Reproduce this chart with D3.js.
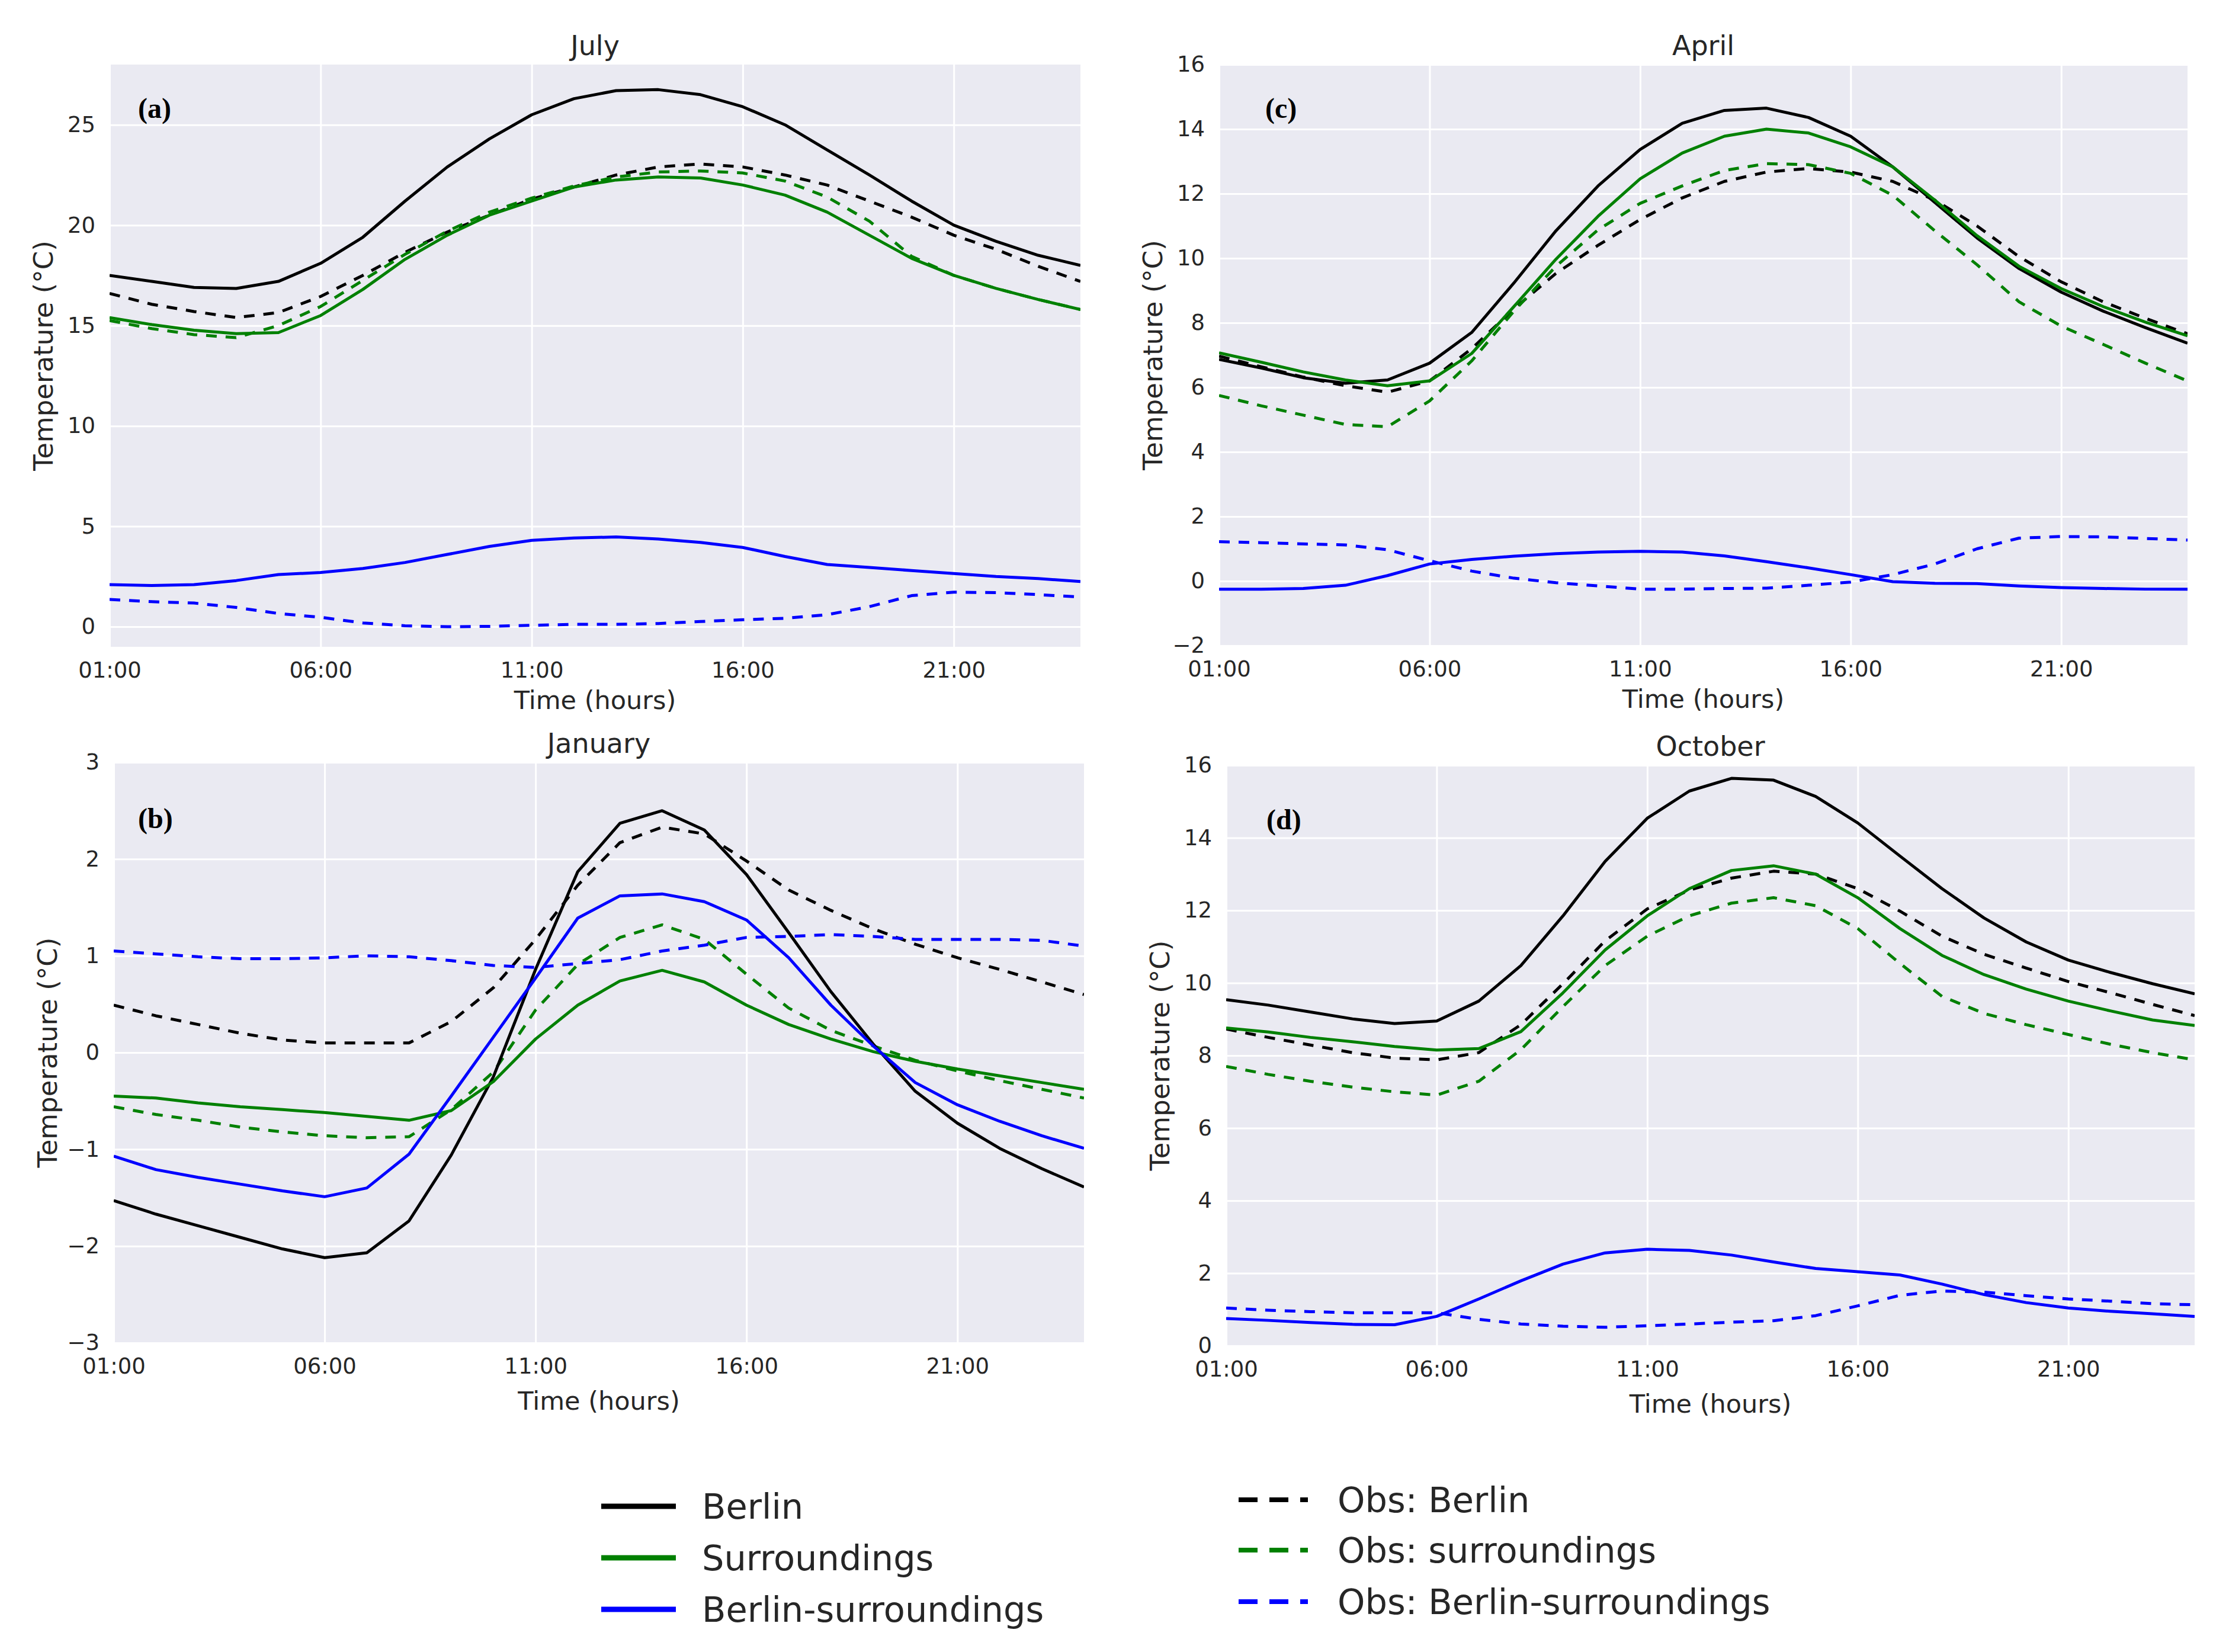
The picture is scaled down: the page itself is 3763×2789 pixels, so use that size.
<!DOCTYPE html>
<html>
<head>
<meta charset="utf-8">
<script src="https://cdn.jsdelivr.net/npm/d3@7"></script>
<style>
  body { margin: 0; background: #fff; }
  svg { display: block; }
</style>
</head>
<body>
<div id="chart"></div>
<script>
const WIDTH = 3763;
const HEIGHT = 2789;

const hours = [1, 2, 3, 4, 5, 6, 7, 8, 9, 10, 11, 12, 13, 14, 15, 16, 17, 18, 19, 20, 21, 22, 23, 24];
const xTickHours = [1, 6, 11, 16, 21];
const xTickLabels = ["01:00", "06:00", "11:00", "16:00", "21:00"];

// July
const julyBerlin = [17.5, 17.2, 16.9, 16.85, 17.2, 18.1, 19.4, 21.2, 22.9, 24.3, 25.5, 26.3, 26.7, 26.75, 26.5, 25.9, 25.0, 23.75, 22.5, 21.2, 20.0, 19.2, 18.5, 18.0];
const julySurr = [15.4, 15.05, 14.77, 14.6, 14.65, 15.5, 16.8, 18.3, 19.5, 20.5, 21.2, 21.9, 22.25, 22.4, 22.35, 22.0, 21.5, 20.65, 19.5, 18.35, 17.5, 16.85, 16.3, 15.8];
const julyDiff = [2.1, 2.05, 2.1, 2.3, 2.6, 2.7, 2.9, 3.2, 3.6, 4.0, 4.3, 4.42, 4.47, 4.37, 4.2, 3.95, 3.5, 3.1, 2.95, 2.8, 2.65, 2.5, 2.4, 2.25];
const julyObsBerlin = [16.6, 16.06, 15.7, 15.4, 15.65, 16.45, 17.5, 18.65, 19.66, 20.5, 21.3, 21.9, 22.5, 22.9, 23.05, 22.9, 22.5, 22.0, 21.2, 20.4, 19.5, 18.8, 17.95, 17.2];
const julyObsSurr = [15.25, 14.85, 14.55, 14.4, 15.0, 15.95, 17.25, 18.55, 19.7, 20.65, 21.35, 21.95, 22.4, 22.65, 22.7, 22.6, 22.2, 21.4, 20.2, 18.45, 17.5, 16.85, 16.3, 15.8];
const julyObsDiff = [1.36, 1.25, 1.18, 0.96, 0.66, 0.47, 0.19, 0.05, 0.0, 0.02, 0.07, 0.12, 0.12, 0.16, 0.26, 0.35, 0.42, 0.6, 1.0, 1.55, 1.72, 1.7, 1.6, 1.48];

// April
const aprilBerlin = [6.87, 6.6, 6.3, 6.13, 6.23, 6.75, 7.7, 9.23, 10.85, 12.24, 13.37, 14.18, 14.58, 14.65, 14.36, 13.78, 12.83, 11.73, 10.63, 9.68, 8.95, 8.36, 7.85, 7.37];
const aprilSurr = [7.07, 6.78, 6.48, 6.23, 6.05, 6.2, 7.05, 8.5, 9.97, 11.3, 12.46, 13.26, 13.78, 14.0, 13.88, 13.45, 12.83, 11.8, 10.7, 9.75, 9.06, 8.5, 8.02, 7.6];
const aprilDiff = [-0.25, -0.25, -0.23, -0.13, 0.17, 0.53, 0.67, 0.77, 0.85, 0.9, 0.92, 0.9, 0.78, 0.6, 0.41, 0.2, -0.02, -0.07, -0.08, -0.15, -0.2, -0.23, -0.25, -0.25];
const aprilObsBerlin = [6.97, 6.64, 6.32, 6.05, 5.85, 6.2, 7.2, 8.43, 9.53, 10.4, 11.2, 11.87, 12.38, 12.67, 12.78, 12.67, 12.38, 11.8, 11.0, 10.05, 9.27, 8.65, 8.14, 7.66];
const aprilObsSurr = [5.75, 5.43, 5.14, 4.85, 4.78, 5.58, 6.82, 8.36, 9.75, 10.88, 11.7, 12.24, 12.72, 12.93, 12.9, 12.63, 11.95, 10.85, 9.8, 8.65, 7.9, 7.33, 6.75, 6.2];
const aprilObsDiff = [1.22, 1.19, 1.15, 1.12, 0.97, 0.63, 0.31, 0.09, -0.05, -0.15, -0.25, -0.25, -0.23, -0.22, -0.13, -0.03, 0.2, 0.53, 1.0, 1.33, 1.38, 1.37, 1.32, 1.27];

// January
const januaryBerlin = [-1.53, -1.67, -1.79, -1.91, -2.03, -2.12, -2.07, -1.74, -1.06, -0.25, 0.86, 1.87, 2.37, 2.5, 2.3, 1.84, 1.24, 0.63, 0.09, -0.4, -0.73, -0.99, -1.2, -1.39];
const januarySurr = [-0.45, -0.47, -0.52, -0.56, -0.59, -0.62, -0.66, -0.7, -0.6, -0.3, 0.14, 0.49, 0.74, 0.85, 0.73, 0.49, 0.29, 0.14, 0.01, -0.09, -0.17, -0.24, -0.31, -0.38];
const januaryDiff = [-1.07, -1.21, -1.29, -1.36, -1.43, -1.49, -1.4, -1.05, -0.45, 0.16, 0.77, 1.39, 1.62, 1.64, 1.56, 1.37, 0.98, 0.49, 0.07, -0.31, -0.54, -0.71, -0.86, -0.99];
const januaryObsBerlin = [0.49, 0.38, 0.29, 0.2, 0.13, 0.1, 0.1, 0.1, 0.32, 0.67, 1.17, 1.73, 2.17, 2.33, 2.26, 1.98, 1.68, 1.47, 1.28, 1.12, 0.98, 0.86, 0.73, 0.6];
const januaryObsSurr = [-0.56, -0.64, -0.7, -0.77, -0.82, -0.86, -0.88, -0.87, -0.59, -0.2, 0.44, 0.91, 1.19, 1.32, 1.17, 0.81, 0.46, 0.23, 0.07, -0.08, -0.19, -0.29, -0.38, -0.47];
const januaryObsDiff = [1.05, 1.02, 0.99, 0.97, 0.97, 0.98, 1.0, 0.99, 0.95, 0.9, 0.88, 0.92, 0.96, 1.05, 1.11, 1.19, 1.2, 1.22, 1.2, 1.17, 1.17, 1.17, 1.16, 1.1];

// October
const octoberBerlin = [9.54, 9.39, 9.2, 9.01, 8.88, 8.95, 9.5, 10.48, 11.85, 13.35, 14.54, 15.29, 15.64, 15.59, 15.14, 14.41, 13.5, 12.6, 11.79, 11.13, 10.63, 10.29, 9.98, 9.7];
const octoberSurr = [8.76, 8.65, 8.5, 8.38, 8.25, 8.15, 8.19, 8.66, 9.73, 10.91, 11.85, 12.6, 13.1, 13.23, 13.0, 12.35, 11.5, 10.76, 10.23, 9.83, 9.5, 9.23, 8.98, 8.83];
const octoberDiff = [0.75, 0.7, 0.64, 0.59, 0.58, 0.81, 1.29, 1.79, 2.25, 2.56, 2.66, 2.63, 2.5, 2.31, 2.13, 2.04, 1.95, 1.7, 1.41, 1.19, 1.04, 0.95, 0.88, 0.81];
const octoberObsBerlin = [8.73, 8.5, 8.29, 8.08, 7.93, 7.88, 8.08, 8.85, 9.98, 11.16, 12.04, 12.56, 12.89, 13.08, 13.0, 12.6, 11.98, 11.29, 10.79, 10.41, 10.04, 9.73, 9.41, 9.1];
const octoberObsSurr = [7.7, 7.48, 7.29, 7.13, 7.0, 6.91, 7.29, 8.16, 9.35, 10.48, 11.29, 11.85, 12.2, 12.35, 12.13, 11.5, 10.54, 9.63, 9.16, 8.85, 8.58, 8.31, 8.08, 7.88];
const octoberObsDiff = [1.04, 0.98, 0.94, 0.91, 0.91, 0.91, 0.73, 0.6, 0.54, 0.51, 0.55, 0.6, 0.65, 0.69, 0.83, 1.1, 1.39, 1.51, 1.48, 1.38, 1.29, 1.23, 1.16, 1.13];

const julyTicks = [0, 5, 10, 15, 20, 25];
const aprilTicks = [-2, 0, 2, 4, 6, 8, 10, 12, 14, 16];
const januaryTicks = [-3, -2, -1, 0, 1, 2, 3];
const octoberTicks = [0, 2, 4, 6, 8, 10, 12, 14, 16];

const seriesNames = ["Berlin", "Surroundings", "Berlin-surroundings", "Obs: Berlin", "Obs: surroundings", "Obs: Berlin-surroundings"];
const seriesColors = ["#000000", "#008000", "#0000ff", "#000000", "#008000", "#0000ff"];
const seriesDashed = [false, false, false, true, true, true];

const TEXT = "#262626";
const BG = "#eaeaf2";

const panels = [
  { title: "July", tag: "(a)", x0: 185, y0: 109, x1: 1824, y1: 1092, tagDx: 48, tagDy: 90, xLabelDy: 105,
    domain: [-1, 28], ticks: julyTicks,
    series: [julyBerlin, julySurr, julyDiff, julyObsBerlin, julyObsSurr, julyObsDiff] },
  { title: "April", tag: "(c)", x0: 2058, y0: 109, x1: 3693, y1: 1090, tagDx: 78, tagDy: 90, xLabelDy: 105,
    domain: [-2, 16], ticks: aprilTicks,
    series: [aprilBerlin, aprilSurr, aprilDiff, aprilObsBerlin, aprilObsSurr, aprilObsDiff] },
  { title: "January", tag: "(b)", x0: 192, y0: 1287, x1: 1830, y1: 2267, tagDx: 41, tagDy: 111, xLabelDy: 113,
    domain: [-3, 3], ticks: januaryTicks,
    series: [januaryBerlin, januarySurr, januaryDiff, januaryObsBerlin, januaryObsSurr, januaryObsDiff] },
  { title: "October", tag: "(d)", x0: 2070, y0: 1292, x1: 3705, y1: 2272, tagDx: 68, tagDy: 108, xLabelDy: 113,
    domain: [0, 16], ticks: octoberTicks,
    series: [octoberBerlin, octoberSurr, octoberDiff, octoberObsBerlin, octoberObsSurr, octoberObsDiff] }
];

const svg = d3.select("#chart")
  .append("svg")
  .attr("width", WIDTH)
  .attr("height", HEIGHT)
  .attr("viewBox", "0 0 " + WIDTH + " " + HEIGHT)
  .style("font-family", "'DejaVu Sans', sans-serif");

svg.append("rect").attr("width", WIDTH).attr("height", HEIGHT).attr("fill", "#fff");

panels.forEach(function (p) {
  const w = p.x1 - p.x0;
  const h = p.y1 - p.y0;
  const x = d3.scaleLinear().domain([1, 24]).range([0, w]);
  const y = d3.scaleLinear().domain(p.domain).range([h, 0]);

  const g = svg.append("g").attr("transform", "translate(" + p.x0 + "," + p.y0 + ")");

  g.append("rect").attr("width", w).attr("height", h).attr("fill", BG);

  // grid + tick labels
  const xAxis = g.append("g")
    .attr("transform", "translate(0," + h + ")")
    .call(d3.axisBottom(x).tickValues(xTickHours).tickSize(-h).tickPadding(52 - 37 * 0.78)
      .tickFormat(function (d, i) { return xTickLabels[i]; }));
  const yAxis = g.append("g")
    .call(d3.axisLeft(y).tickValues(p.ticks).tickSize(-w).tickPadding(24)
      .tickFormat(function (d) { return d < 0 ? "\u2212" + Math.abs(d) : String(d); }));

  [xAxis, yAxis].forEach(function (ax) {
    ax.select(".domain").remove();
    ax.selectAll(".tick line").attr("stroke", "#fff").attr("stroke-width", 3);
    ax.selectAll(".tick text")
      .attr("fill", TEXT)
      .style("font-size", "37px")
      .style("font-family", "'DejaVu Sans', sans-serif");
  });
  xAxis.selectAll(".tick text").attr("dy", "0.78em");

  const clipId = "clip-" + p.tag.replace(/[()]/g, "");
  g.append("clipPath").attr("id", clipId)
    .append("rect").attr("width", w).attr("height", h);

  const line = d3.line()
    .x(function (d, i) { return x(hours[i]); })
    .y(function (d) { return y(d); });

  const lines = g.append("g").attr("clip-path", "url(#" + clipId + ")");
  // obs (dashed) first, model (solid) on top
  [3, 4, 5, 0, 1, 2].forEach(function (k) {
    lines.append("path")
      .datum(p.series[k])
      .attr("d", line)
      .attr("fill", "none")
      .attr("stroke", seriesColors[k])
      .attr("stroke-width", 5)
      .attr("stroke-linejoin", "round")
      .attr("stroke-dasharray", seriesDashed[k] ? "18,15" : null);
  });

  g.append("text")
    .attr("x", p.tagDx)
    .attr("y", p.tagDy)
    .attr("fill", "#000")
    .style("font-family", "'Liberation Serif', serif")
    .style("font-weight", "bold")
    .style("font-size", "48px")
    .text(p.tag);

  g.append("text")
    .attr("x", w / 2)
    .attr("y", -16)
    .attr("text-anchor", "middle")
    .attr("fill", TEXT)
    .style("font-size", "46px")
    .text(p.title);

  g.append("text")
    .attr("x", w / 2)
    .attr("y", h + p.xLabelDy)
    .attr("text-anchor", "middle")
    .attr("fill", TEXT)
    .style("font-size", "43px")
    .text("Time (hours)");

  g.append("text")
    .attr("transform", "translate(" + (-112) + "," + (h / 2) + ") rotate(-90)")
    .attr("text-anchor", "middle")
    .attr("dy", "0.35em")
    .attr("fill", TEXT)
    .style("font-size", "45px")
    .text("Temperature (\u00b0C)");
});

// legend: two columns
const legendCols = [
  { x: 1015, len: 126, textX: 1185, rows: [2543, 2630, 2717], items: [0, 1, 2], width: 9 },
  { x: 2091, len: 117, textX: 2258, rows: [2532, 2617, 2704], items: [3, 4, 5], width: 8 }
];

const legend = svg.append("g");
legendCols.forEach(function (col) {
  col.items.forEach(function (k, r) {
    legend.append("line")
      .attr("x1", col.x).attr("x2", col.x + col.len)
      .attr("y1", col.rows[r]).attr("y2", col.rows[r])
      .attr("stroke", seriesColors[k])
      .attr("stroke-width", col.width)
      .attr("stroke-dasharray", seriesDashed[k] ? "32,20" : null);
    legend.append("text")
      .attr("x", col.textX)
      .attr("y", col.rows[r])
      .attr("dy", "0.36em")
      .attr("fill", TEXT)
      .style("font-size", "59px")
      .text(seriesNames[k]);
  });
});
</script>
</body>
</html>
